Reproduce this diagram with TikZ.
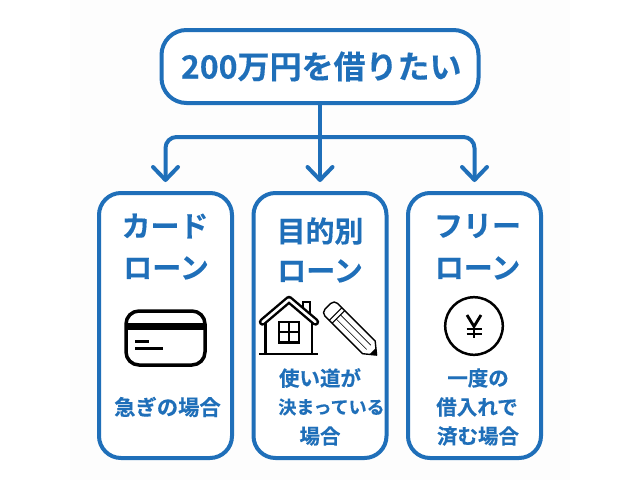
\documentclass[tikz,border=0pt]{standalone}
\usepackage{fontspec}
\usetikzlibrary{arrows.meta}
\newfontfamily\jpfont{Noto Sans CJK JP}[BoldFont={Noto Sans CJK JP Bold},BoldFeatures={FakeBold=0.3}]
\definecolor{loanblue}{HTML}{1F6FB9}
\definecolor{paper}{HTML}{FDFDFD}
\tikzset{
  x=1pt,y=-1pt,
  card/.style={draw=loanblue,line width=4pt,rounded corners=22pt,fill=white,minimum width=133pt,minimum height=265pt,inner sep=0pt,outer sep=0pt},
  headbox/.style={draw=loanblue,line width=4pt,rounded corners=25pt,fill=white,minimum width=317pt,minimum height=73pt,inner sep=0pt,outer sep=0pt,text=loanblue,font=\jpfont\bfseries\fontsize{32}{32}\selectfont},
  wire/.style={draw=loanblue,line width=4pt,line cap=round},
  arrowwire/.style={wire,rounded corners=11pt,shorten >=11pt,-{Straight Barb[length=13pt,width=25pt,line width=4pt,line cap=round,round]}},
  bigtxt/.style={text=loanblue,inner sep=0pt,font=\jpfont\bfseries\fontsize{29}{29}\selectfont},
  smalltxt/.style={text=loanblue,inner sep=0pt,font=\jpfont\bfseries\fontsize{20.5}{21}\selectfont},
  icon/.style={draw=black,line width=2.5pt},
}
\begin{document}
\begin{tikzpicture}
\useasboundingbox (0,0) rectangle (640,480);
\fill[white] (0,0) rectangle (640,480);
\fill[paper] (70,0) rectangle (570,480);
% boxes
\node[headbox] (top) at (320,66.5) {\hspace{2.5pt}200万円を借りたい};
\node[card] (left) at (165.5,325.5) {};
\node[card] (mid) at (320,325.5) {};
\node[card] (right) at (474.5,325.5) {};
% connectors
\coordinate (junction) at (320,137);
\draw[arrowwire] (top.south) -- (mid.north);
\draw[arrowwire] (junction) -| (left.north);
\draw[arrowwire] (junction) -| (right.north);
% titles
\node[bigtxt] (t1a) at (165,226) {カード};
\node[bigtxt] (t1b) at (166,268) {ローン};
\node[bigtxt] (t2a) at (320,231) {目的別};
\node[bigtxt] (t2b) at (320,271) {ローン};
\node[bigtxt] (t3a) at (477.5,226) {フリー};
\node[bigtxt] (t3b) at (477.5,268) {ローン};
% captions
\node[smalltxt,font=\jpfont\bfseries\fontsize{21.3}{21}\selectfont] (c1) at (167.5,407) {急ぎの場合};
\node[smalltxt] (c2a) at (320,378) {使い道が};
\node[smalltxt,font=\jpfont\bfseries\fontsize{18}{20}\selectfont] (c2b) at (331.5,407) {決まっている};
\node[smalltxt] (c2c) at (320,436) {場合};
\node[smalltxt] (c3a) at (478,378) {一度の};
\node[smalltxt] (c3b) at (477,407) {借入れで};
\node[smalltxt] (c3c) at (478,436) {済む場合};
% credit card icon
\draw[black,line width=3.5pt,rounded corners=13pt] (126,311) rectangle (205,365);
\fill[black] (126,323) rectangle (205,329.5);
\fill[black] (134.5,339.5) rectangle (148.5,343);
\fill[black] (134.5,346.5) rectangle (162.5,350);
% house icon
\draw[icon] (259,354) -- (318,354);
\draw[icon] (265.5,354) -- (265.5,321);
\draw[icon] (312,354) -- (312,321);
\draw[icon,line width=2pt,fill=white] (302.5,312) -- (302.5,302) -- (309.5,302) -- (309.5,318);
\draw[black,line width=7.5pt,line cap=round,line join=round] (262.5,322) -- (289,299.5) -- (315.5,322);
\draw[white,line width=2.6pt,line cap=round,line join=round] (262.5,322) -- (289,299.5) -- (315.5,322);
\draw[icon] (279,322) rectangle (299,342.5);
\draw[icon] (289,322) -- (289,342.5);
\draw[icon] (279,332.2) -- (299,332.2);
% pencil icon
\begin{scope}[shift={(327.8,306.3)},rotate=-45]
  \draw[black,line width=1.4pt,rounded corners=5pt] (15,-9) -- (0,-9) -- (0,9) -- (15,9);
  \draw[black,line width=1.1pt] (11,-9) -- (11,9) (15,-9) -- (15,9);
  \draw[black,line width=1.4pt,line join=round] (15,-9) -- (58,-9) -- (69,0) -- (58,9) -- (15,9);
  \draw[black,line width=0.7pt] (15,-3) -- (58,-3) (15,3) -- (58,3);
  \fill[black] (63.5,-4.5) -- (69,0) -- (63.5,4.5) -- cycle;
\end{scope}
% yen icon
\draw[black,line width=2.5pt] (474,326) circle (28.8pt);
\draw[black,line width=2.8pt] (467,315) -- (474,326.5) -- (481,315);
\draw[black,line width=2.4pt] (474,326.5) -- (474,338);
\draw[black,line width=2.2pt] (466.5,329) -- (481.5,329) (466.5,334) -- (481.5,334);
\end{tikzpicture}
\end{document}
